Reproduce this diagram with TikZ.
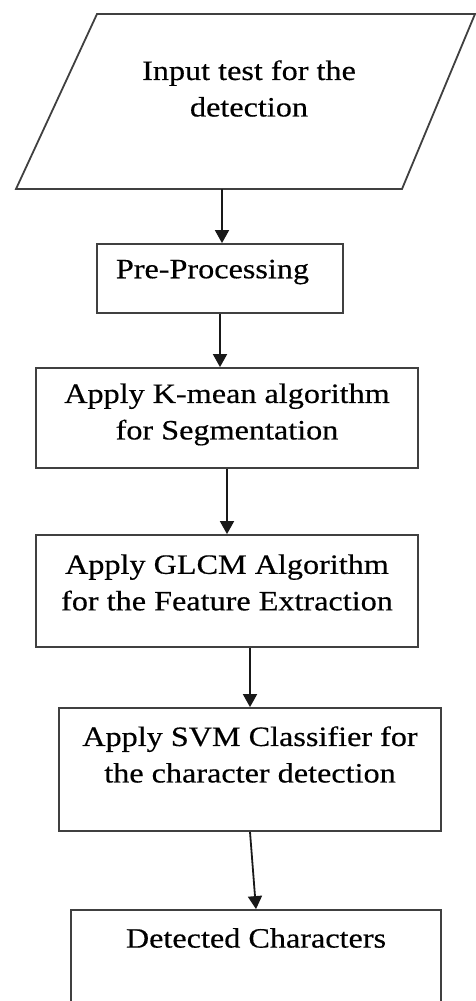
\documentclass[tikz,border=0pt]{standalone}
\usepackage{fontspec}
\newfontfamily\flowfont[FakeStretch=1.15, FakeBold=0.4]{Liberation Serif}
\usepackage{tikz}
\usetikzlibrary{arrows.meta, positioning, calc}

\tikzset{
    stepbox/.style={draw=black!75, line width=1.8pt, inner sep=0pt},
    steptext/.style={font=\flowfont\fontsize{28}{36.5}\selectfont, align=center, text=black},
    flow/.style={draw=black!90, line width=1.8pt, -{Triangle[length=13pt, width=14pt]}},
}

\begin{document}
\begin{tikzpicture}[x=1pt, y=-1pt]
    \path[use as bounding box, clip] (0,0) rectangle (476,1001);

    % input (parallelogram)
    \draw[stepbox, line join=miter] (97,14) -- (475,14) -- (402,189) -- (16,189) -- cycle;
    \coordinate (inbot) at (222,189);
    \node[steptext] (input) at (249,88.5) {Input test for the\\detection};

    % steps
    \node[stepbox, minimum width=246pt, minimum height=69pt]  (pre)   at (220,278.5) {};
    \node[steptext] (pretxt) at (212.5,272) {Pre-Processing};

    \node[stepbox, minimum width=382pt, minimum height=100pt] (kmean) at (227,418) {};
    \node[steptext] (kmeantxt) at (227,414.5) {Apply K-mean algorithm\\for Segmentation};

    \node[stepbox, minimum width=382pt, minimum height=112pt] (glcm)  at (227,591) {};
    \node[steptext] (glcmtxt) at (227,582.5) {Apply GLCM Algorithm\\for the Feature Extraction};

    \node[stepbox, minimum width=382pt, minimum height=123pt] (svm)   at (250,769.5) {};
    \node[steptext] (svmtxt) at (250,754.5) {Apply SVM Classifier for\\the character detection};

    \node[stepbox, minimum width=370pt, minimum height=96pt]  (det)   at (256,958) {};
    \node[steptext] (dettxt) at (256,938) {Detected Characters};

    % arrows
    \draw[flow] (inbot) -- (inbot |- pre.north);
    \draw[flow] (pre.south) -- (pre.south |- kmean.north);
    \draw[flow] (kmean.south) -- (glcm.north);
    \draw[flow] (glcm.south -| svm.north) -- (svm.north);
    \draw[flow] (svm.south) -- (det.north);
\end{tikzpicture}
\end{document}
